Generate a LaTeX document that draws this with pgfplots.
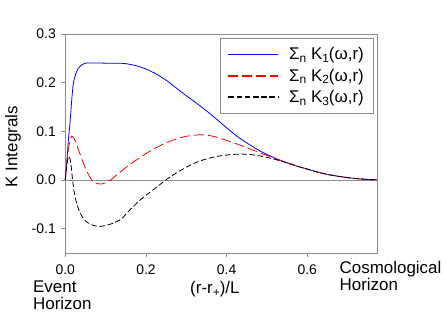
\documentclass[border=0pt]{standalone}
\usepackage{fontspec}
\setmainfont{Liberation Sans}
\usepackage{pgfplots}
\pgfplotsset{compat=1.18}

\newcommand{\sub}[1]{\raisebox{-0.3ex}{\fontsize{12}{12}\selectfont #1}}
\newcommand{\lbl}{\fontsize{17}{19}\selectfont}

\begin{document}
\begin{tikzpicture}
  % page = 446 x 327 bp, axis box = 311.7 x 218.7 bp
  \useasboundingbox (-65.3bp,-74.3bp) rectangle (380.7bp,252.7bp);
  \begin{axis}[
      scale only axis,
      width=311.7bp, height=218.7bp,
      xmin=0, xmax=0.773,
      ymin=-0.15, ymax=0.3,
      axis line style={gray!90},
      tick style={gray!90, thin},
      tick align=outside,
      major tick length=4bp,
      xtick pos=bottom, ytick pos=left,
      xtick={0,0.2,0.4,0.6},
      ytick={-0.1,0,0.1,0.2,0.3},
      xticklabels={0.0,0.2,0.4,0.6},
      yticklabels={-0.1,0.0,0.1,0.2,0.3},
      ticklabel style={font=\fontsize{14}{16}\selectfont},
      xticklabel style={yshift=-5bp},
      yticklabel style={xshift=-2bp},
      clip=false,
      legend cell align=left,
      legend style={name=lgd, at={(1,1)}, anchor=north east, xshift=-4bp, yshift=-4bp,
        draw=none, font=\lbl, row sep=3.5bp,
        inner xsep=7bp, inner ysep=7.5bp,
        /tikz/every odd column/.append style={column sep=8bp}},
      legend image code/.code={\draw[#1, line width=1.5bp] (0bp,0bp) -- (50bp,0bp);},
    ]
    \draw[gray!90, thin] (axis cs:0,0) -- (axis cs:0.773,0);

    % K1
    \addplot[color=blue, line width=0.8bp, smooth, tension=0.3] coordinates {
      (0,0) (0.004,0.04) (0.008,0.085) (0.012,0.12) (0.016,0.165) (0.02,0.199)
      (0.026,0.218) (0.032,0.229) (0.04,0.236) (0.05,0.240) (0.07,0.2405)
      (0.1,0.240) (0.13,0.240) (0.15,0.239) (0.175,0.235) (0.2,0.228)
      (0.225,0.218) (0.25,0.205) (0.275,0.189) (0.3,0.173) (0.325,0.158)
      (0.35,0.142) (0.375,0.125) (0.4,0.107) (0.425,0.090) (0.45,0.076)
      (0.475,0.063) (0.5,0.052) (0.525,0.043) (0.55,0.035) (0.575,0.028)
      (0.6,0.022) (0.625,0.016) (0.65,0.011) (0.675,0.0075) (0.7,0.0045)
      (0.725,0.0022) (0.75,0.0007) (0.773,0)
    };
    \addlegendentry{Σ\sub{n} K\sub{1}(ω,r)}

    % K2
    \addplot[color=red, line width=0.8bp, dash pattern=on 10bp off 4bp, smooth, tension=0.3] coordinates {
      (0,0) (0.004,0.035) (0.008,0.065) (0.012,0.083) (0.016,0.090) (0.02,0.088)
      (0.025,0.08) (0.03,0.068) (0.04,0.045) (0.05,0.024) (0.06,0.007)
      (0.07,-0.004) (0.08,-0.008) (0.09,-0.0085) (0.1,-0.006) (0.115,0.001)
      (0.13,0.012) (0.15,0.025) (0.175,0.040) (0.2,0.054) (0.225,0.066)
      (0.25,0.076) (0.275,0.084) (0.3,0.0895) (0.33,0.0925) (0.35,0.092)
      (0.375,0.088) (0.4,0.081) (0.425,0.074) (0.45,0.066) (0.475,0.058)
      (0.5,0.050) (0.525,0.042) (0.55,0.035) (0.575,0.028)
      (0.6,0.022) (0.625,0.016) (0.65,0.011) (0.675,0.0075) (0.7,0.0045)
      (0.725,0.0022) (0.75,0.0007) (0.773,0)
    };
    \addlegendentry{Σ\sub{n} K\sub{2}(ω,r)}

    % K3
    \addplot[color=black, line width=0.8bp, dash pattern=on 5.5bp off 2.7bp, smooth, tension=0.3] coordinates {
      (0,0) (0.003,0.025) (0.006,0.042) (0.009,0.048) (0.012,0.042) (0.015,0.025)
      (0.018,0.0) (0.022,-0.025) (0.027,-0.045) (0.035,-0.065) (0.045,-0.08)
      (0.055,-0.088) (0.07,-0.094) (0.086,-0.096) (0.1,-0.094) (0.12,-0.089)
      (0.14,-0.080) (0.16,-0.062) (0.185,-0.042) (0.2,-0.032) (0.225,-0.016)
      (0.25,0.0) (0.275,0.014) (0.3,0.026) (0.325,0.036) (0.35,0.043)
      (0.375,0.048) (0.4,0.051) (0.433,0.053) (0.46,0.052) (0.49,0.048)
      (0.52,0.042) (0.55,0.035) (0.575,0.028)
      (0.6,0.022) (0.625,0.016) (0.65,0.011) (0.675,0.0075) (0.7,0.0045)
      (0.725,0.0022) (0.75,0.0007) (0.773,0)
    };
    \addlegendentry{Σ\sub{n} K\sub{3}(ω,r)}

    % labels
    \node[rotate=90, font=\lbl] at ([xshift=-52.3bp]axis cs:0,0.068) {K Integrals};
    \node[font=\lbl] at (axis cs:0.371,-0.225) {(r-r\sub{+})/L};
    \node[font=\lbl, anchor=north west, align=left, inner sep=0pt]
      at ([xshift=-32.3bp]axis cs:0,-0.208) {Event\\[-2bp]Horizon};
    \node[font=\lbl, anchor=north west, align=left, inner sep=0pt]
      at (axis cs:0.68,-0.167) {Cosmological\\[-2bp]Horizon};
  \end{axis}
  \draw[gray!90, thin] (lgd.south west) rectangle (lgd.north east);
\end{tikzpicture}
\end{document}
